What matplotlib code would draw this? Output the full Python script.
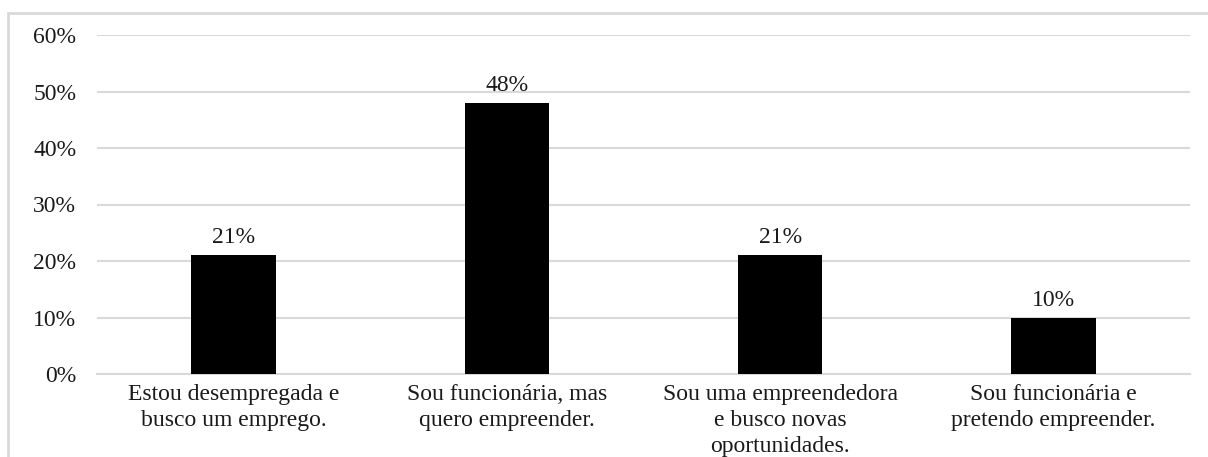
import matplotlib.pyplot as plt
from matplotlib.patches import Rectangle
from matplotlib.ticker import FuncFormatter

# survey answers and their share
categories = [
    "Estou desempregada e\nbusco um emprego.",
    "Sou funcionária, mas\nquero empreender.",
    "Sou uma empreendedora\ne busco novas\noportunidades.",
    "Sou funcionária e\npretendo empreender.",
]
shares = [21, 48, 21, 10]
y_ticks = [0, 10, 20, 30, 40, 50, 60]

plt.rcParams["font.family"] = ["Liberation Serif", "DejaVu Serif"]
plt.rcParams["font.size"] = 17

fig = plt.figure(figsize=(12.08, 4.57), dpi=100)
W, H = 1208, 457
ax = fig.add_axes([97 / W, (H - 374) / H, (1190 - 97) / W, (374 - 35) / H])

x = range(len(categories))
bars = ax.bar(x, shares, width=0.31, color="black", zorder=3)

# value labels above bars
for b, v in zip(bars, shares):
    ax.annotate(f"{v}%", (b.get_x() + b.get_width() / 2, v),
                xytext=(0, 5), textcoords="offset points",
                ha="center", va="bottom", color="#1a1a1a")

ax.set_xlim(-0.5, len(categories) - 0.5)
ax.set_ylim(0, 60)
ax.set_yticks(y_ticks)
ax.yaxis.set_major_formatter(FuncFormatter(lambda v, pos: f"{v:.0f}%"))
ax.set_xticks(list(x))
ax.set_xticklabels(categories, linespacing=1.3, color="#1a1a1a")
ax.tick_params(axis="both", length=0, colors="#1a1a1a")
ax.tick_params(axis="x", pad=7.5)
ax.tick_params(axis="y", pad=15)

ax.grid(axis="y", color="#d9d9d9", linewidth=1.5, zorder=0)
for s in ["top", "right", "left"]:
    ax.spines[s].set_visible(False)
ax.spines["bottom"].set_color("#d9d9d9")
ax.spines["bottom"].set_linewidth(1.5)

# light outer frame of the chart area
fig.patches.append(Rectangle((8 / W, -0.2), 1.2, (H - 13) / H + 0.2,
                             transform=fig.transFigure, fill=False,
                             edgecolor="#d9d9d9", linewidth=2))

fig.savefig("out.png", dpi=100)
